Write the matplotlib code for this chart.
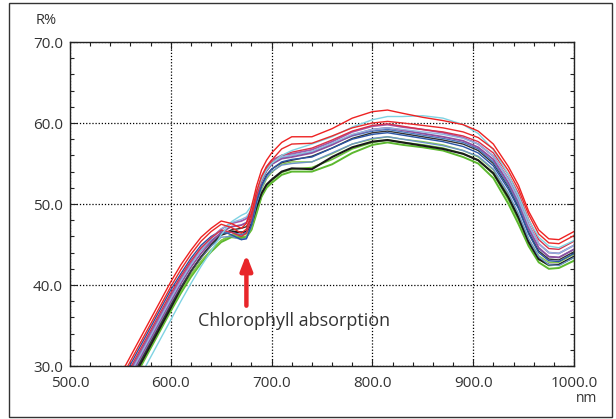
import matplotlib
matplotlib.use("Agg")
import matplotlib.pyplot as plt
from matplotlib.ticker import MultipleLocator, FormatStrFormatter
from matplotlib.patches import Rectangle

plt.rcParams['font.family'] = ['Open Sans', 'DejaVu Sans']

# wavelengths (nm) where reflectance was read
wl = [550, 560, 570, 580, 590, 600, 610, 620, 630, 640, 650, 660, 670, 675, 680, 685, 690, 695, 700,
      710, 720, 740, 760, 780, 800, 815, 830, 850, 870, 890, 905, 920, 935, 945, 955, 965, 975, 985, 1000]

# reflectance R% of each sample
red_a = [28.9, 31.2, 33.5, 35.8, 38.1, 40.4, 42.5, 44.3, 45.9, 47.0, 47.9, 47.6, 47.0, 47.6, 49.6, 52.2, 54.2, 55.4, 56.3,
         57.6, 58.3, 58.3, 59.3, 60.6, 61.4, 61.6, 61.2, 60.7, 60.3, 59.8, 59.0, 57.4, 54.6, 52.3, 49.1, 46.8, 45.7, 45.6, 46.6]
red_b = [28.3, 30.6, 32.9, 35.2, 37.5, 39.8, 41.9, 43.8, 45.4, 46.6, 47.5, 47.1, 46.4, 46.9, 48.8, 51.5, 53.4, 54.6, 55.4,
         56.8, 57.4, 57.5, 58.4, 59.4, 60.0, 60.2, 60.0, 59.7, 59.4, 58.9, 58.2, 56.8, 54.1, 51.8, 48.7, 46.3, 45.2, 45.1, 46.1]
red_c = [27.5, 29.8, 32.1, 34.4, 36.7, 39.0, 41.1, 43.0, 44.6, 45.8, 46.8, 46.5, 46.0, 46.4, 48.2, 51.0, 53.0, 54.3, 55.1,
         56.0, 56.4, 56.9, 57.9, 59.0, 59.7, 59.9, 59.6, 59.2, 58.9, 58.4, 57.7, 56.3, 53.6, 51.3, 48.1, 45.6, 44.5, 44.4, 45.4]
blue_a = [27.9, 30.2, 32.5, 34.8, 37.1, 39.4, 41.4, 43.3, 44.9, 46.0, 46.7, 46.2, 45.6, 45.7, 47.4, 50.3, 52.3, 53.5, 54.3,
          55.2, 55.5, 55.8, 56.9, 58.0, 58.6, 58.8, 58.5, 58.1, 57.7, 57.1, 56.3, 54.7, 51.8, 49.4, 46.3, 44.0, 43.0, 42.9, 43.9]
blue_b = [27.2, 29.5, 31.8, 34.1, 36.4, 38.7, 40.8, 42.7, 44.3, 45.5, 46.4, 46.5, 46.2, 46.5, 48.1, 50.8, 52.8, 54.1, 54.9,
          55.7, 56.0, 56.4, 57.4, 58.4, 59.0, 59.2, 58.9, 58.5, 58.1, 57.6, 56.8, 55.2, 52.3, 49.9, 46.8, 44.5, 43.5, 43.4, 44.4]
purple_a = [27.0, 29.3, 31.6, 33.9, 36.2, 38.5, 40.7, 42.7, 44.4, 45.8, 46.9, 47.6, 47.9, 48.2, 49.2, 51.4, 53.3, 54.6, 55.4,
            56.0, 56.2, 56.7, 57.7, 58.9, 59.6, 59.8, 59.5, 59.2, 58.8, 58.2, 57.4, 55.9, 53.1, 50.7, 47.5, 45.1, 44.0, 43.9, 44.9]
cyan_b = [26.8, 29.1, 31.4, 33.7, 36.0, 38.3, 40.5, 42.5, 44.3, 45.7, 46.9, 47.7, 48.1, 48.4, 49.3, 51.3, 53.1, 54.4, 55.1,
          55.8, 56.0, 56.5, 57.5, 58.6, 59.2, 59.4, 59.2, 58.9, 58.6, 58.1, 57.4, 55.9, 53.0, 50.5, 47.4, 45.1, 44.0, 43.9, 44.9]
purple_b = [26.5, 28.8, 31.1, 33.4, 35.7, 38.0, 40.2, 42.2, 43.9, 45.3, 46.5, 47.2, 47.4, 47.7, 48.8, 51.0, 52.9, 54.1, 54.9,
            55.6, 55.8, 56.3, 57.3, 58.5, 59.2, 59.4, 59.1, 58.7, 58.3, 57.8, 57.0, 55.5, 52.6, 50.2, 47.0, 44.6, 43.5, 43.4, 44.4]
blue_c = [26.2, 28.5, 30.8, 33.1, 35.4, 37.7, 39.8, 41.7, 43.4, 44.8, 45.9, 46.0, 45.6, 45.8, 47.3, 50.0, 52.0, 53.3, 54.0,
          54.8, 55.0, 55.2, 56.3, 57.4, 58.1, 58.3, 58.0, 57.6, 57.2, 56.6, 55.9, 54.3, 51.3, 48.8, 45.7, 43.5, 42.5, 42.4, 43.4]
black_b = [26.0, 28.3, 30.6, 32.9, 35.2, 37.5, 39.7, 41.7, 43.5, 45.0, 46.2, 46.8, 47.0, 47.2, 48.2, 50.4, 52.3, 53.6, 54.3,
           55.1, 55.4, 55.9, 56.9, 58.1, 58.8, 59.0, 58.7, 58.3, 57.9, 57.4, 56.6, 55.0, 52.1, 49.6, 46.5, 44.2, 43.2, 43.1, 44.1]
green_c = [25.8, 28.1, 30.4, 32.7, 35.0, 37.3, 39.4, 41.3, 42.9, 44.3, 45.5, 46.2, 46.2, 46.3, 47.4, 49.7, 51.8, 53.1, 53.9,
           54.9, 55.2, 55.2, 56.2, 57.4, 58.0, 58.3, 58.0, 57.7, 57.3, 56.6, 55.8, 54.2, 51.1, 48.6, 45.7, 43.6, 42.8, 42.8, 43.8]
black_a = [25.7, 28.0, 30.3, 32.6, 34.9, 37.2, 39.6, 41.7, 43.4, 44.9, 46.2, 46.6, 46.5, 46.6, 47.5, 49.6, 51.3, 52.4, 53.0,
           54.0, 54.4, 54.3, 55.8, 57.0, 57.7, 57.9, 57.6, 57.2, 56.8, 56.2, 55.4, 53.8, 50.8, 48.3, 45.3, 43.2, 42.5, 42.5, 43.5]
green_b = [25.5, 27.8, 30.1, 32.4, 34.7, 37.0, 39.2, 41.2, 42.9, 44.3, 45.5, 46.1, 46.0, 46.0, 46.9, 49.0, 51.0, 52.2, 52.9,
           53.9, 54.3, 54.5, 55.5, 56.8, 57.6, 57.9, 57.6, 57.3, 56.9, 56.2, 55.4, 53.7, 50.5, 48.0, 45.2, 43.2, 42.4, 42.5, 43.4]
green_a = [25.3, 27.6, 29.9, 32.2, 34.5, 36.8, 39.0, 41.0, 42.7, 44.1, 45.3, 45.9, 45.8, 45.9, 46.8, 48.8, 50.9, 52.0, 52.6,
           53.6, 54.0, 54.0, 54.9, 56.3, 57.3, 57.6, 57.3, 57.0, 56.6, 55.8, 55.0, 53.2, 50.0, 47.5, 44.8, 42.8, 42.0, 42.1, 43.0]
cyan_a = [24.2, 26.5, 28.8, 31.1, 33.4, 35.7, 38.0, 40.2, 42.3, 44.2, 46.2, 47.8, 48.6, 48.9, 49.8, 51.5, 53.0, 54.2, 55.0,
          56.0, 56.6, 57.4, 58.3, 59.5, 60.4, 60.8, 60.8, 60.9, 60.6, 59.8, 58.7, 56.7, 53.6, 51.0, 48.0, 45.9, 44.8, 44.6, 45.5]

curves = [
    (green_a, '#5cb82e', 1.4), (green_b, '#6cc23a', 1.2), (green_c, '#86c94a', 1.0),
    (black_a, '#1a1a1a', 1.5), (blue_c, '#6d94c8', 1.0), (black_b, '#333333', 1.0),
    (blue_a, '#2a55a5', 1.0), (blue_b, '#4a78bd', 1.0),
    (purple_b, '#8e4f9e', 1.3), (purple_a, '#a45aa8', 1.3), (cyan_b, '#8fb8e0', 1.0),
    (red_c, '#d8304a', 1.0), (cyan_a, '#7fd3e3', 1.0), (red_b, '#e82a2a', 1.0), (red_a, '#ee2222', 1.0),
]

fig = plt.figure(figsize=(6.16, 4.19), dpi=100)
ax = fig.add_axes([70 / 616, 53 / 419, 504 / 616, 324 / 419])

for vals, col, lw in curves:
    ax.plot(wl, vals, color=col, lw=lw, solid_joinstyle='round')

ax.set_xlim(500, 1000)
ax.set_ylim(30, 70)
ax.xaxis.set_major_locator(MultipleLocator(100))
ax.xaxis.set_minor_locator(MultipleLocator(20))
ax.yaxis.set_major_locator(MultipleLocator(10))
ax.yaxis.set_minor_locator(MultipleLocator(2))
ax.xaxis.set_major_formatter(FormatStrFormatter('%.1f'))
ax.yaxis.set_major_formatter(FormatStrFormatter('%.1f'))
ax.tick_params(which='both', direction='in', top=True, right=True, colors='#222222',
               labelcolor='#333333', labelsize=11)
ax.tick_params(which='major', length=5, width=0.8)
ax.tick_params(axis='x', which='major', pad=7)
ax.tick_params(axis='y', which='major', pad=5)
ax.tick_params(which='minor', length=3, width=0.8)
ax.grid(which='major', color='black', linestyle=(0, (1, 1.5)), linewidth=0.9)
for sp in ax.spines.values():
    sp.set_color('#222222')
    sp.set_linewidth(1.0)

# annotation: chlorophyll absorption arrow
ax.annotate('', xy=(675, 44.1), xytext=(675, 37.1),
            arrowprops=dict(arrowstyle='-|>,head_length=0.9,head_width=0.35',
                            color='#e8262a', lw=3.2))
ax.text(722, 35.6, 'Chlorophyll absorption', ha='center', va='center',
        fontsize=13, color='#333333')

fig.text(46 / 616, 1 - 21 / 419, 'R%', ha='center', va='center', fontsize=10.5, color='#333333')
fig.text(587 / 616, 1 - 391 / 419, 'nm', ha='center', va='top', fontsize=10, color='#333333')

# outer frame
fig.patches.append(Rectangle((9 / 616, 2 / 419), 603 / 616, 414 / 419, transform=fig.transFigure,
                             fill=False, edgecolor='#333333', lw=1.0))

fig.savefig('out.png', dpi=100)
